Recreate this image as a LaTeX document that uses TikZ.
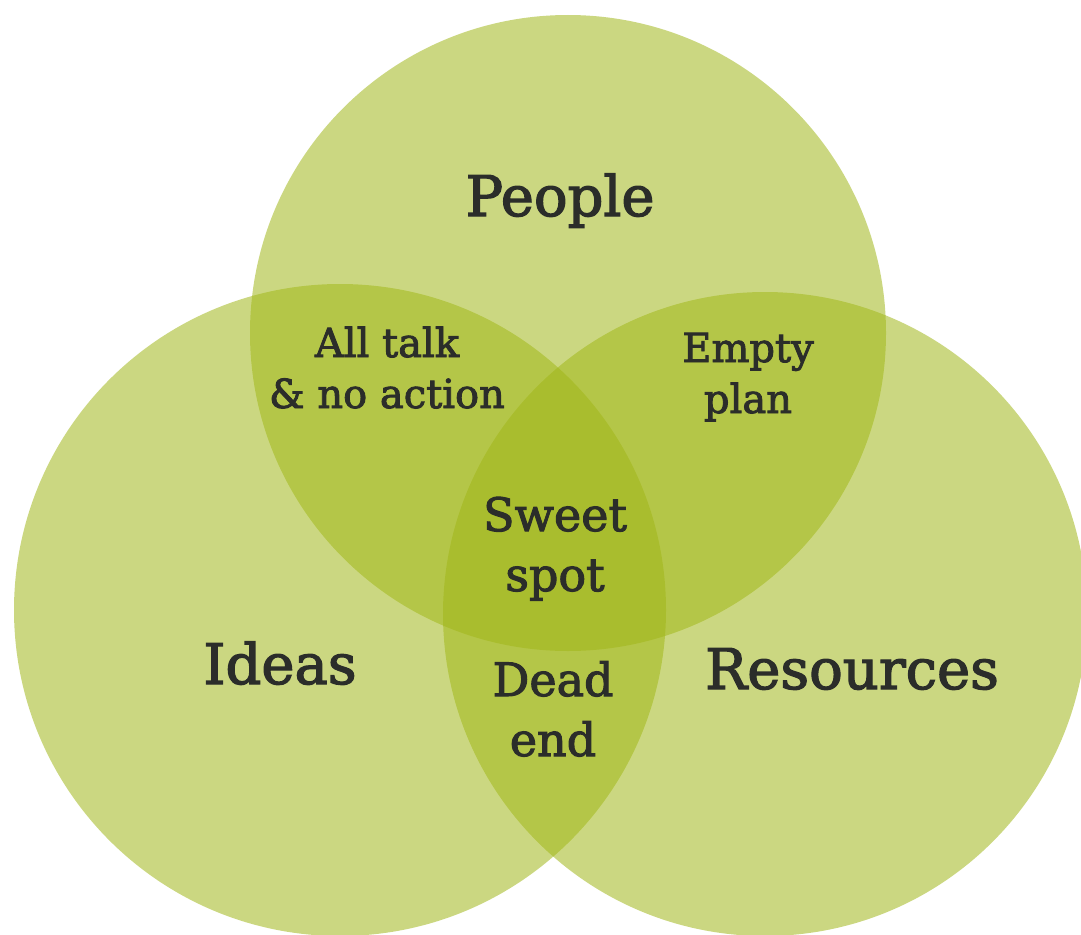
\documentclass[tikz,border=0pt]{standalone}
\usepackage{fontspec}
\setmainfont{DejaVu Serif}[FakeBold=2.2]
\definecolor{venngreen}{RGB}{161,183,25}
\definecolor{labelink}{RGB}{43,45,42}
\begin{document}
\begin{tikzpicture}[x=1pt,y=-1pt,
  set/.style={circle, fill=venngreen, fill opacity=0.55, draw=none, inner sep=0pt, minimum size=#1},
  biglabel/.style={text=labelink, anchor=base, font=\fontsize{56}{66}\selectfont},
  zonelabel/.style={text=labelink, align=center, anchor=base, font=\fontsize{40}{51}\selectfont},
  corelabel/.style={text=labelink, align=center, anchor=base, font=\fontsize{46}{60}\selectfont}]
\useasboundingbox (0,0) rectangle (1081,934);
% the three translucent sets
\begin{scope}
  \clip (0,0) rectangle (1081,934);
  \node[set=636pt] (people) at (568,333) {};
  \node[set=652pt] (ideas) at (340,610) {};
  \node[set=644pt] (resources) at (765,614) {};
\end{scope}
% set names (baseline anchored)
\node[biglabel] (peopleT) at (560,216) {People};
\node[biglabel] (ideasT) at (280,684) {Ideas};
\node[biglabel] (resourcesT) at (852,689) {Resources};
% overlap names (anchored at the baseline of the last line)
\node[zonelabel] (talk) at (387,408) {All talk\\\& no action};
\node[zonelabel] (plan) at (748,413) {Empty\\plan};
\node[corelabel] (sweet) at (555,591) {Sweet\\spot};
\node[corelabel] (dead) at (553,756) {Dead\\end};
\end{tikzpicture}
\end{document}
